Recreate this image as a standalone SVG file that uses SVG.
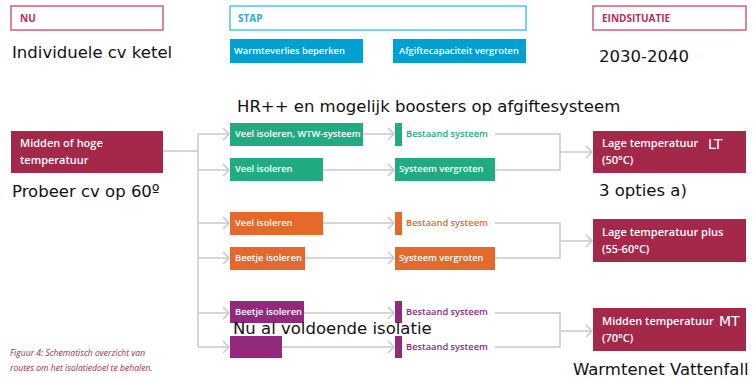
<svg xmlns="http://www.w3.org/2000/svg" width="754" height="380" viewBox="0 0 754 380">
<style>
.hdr{fill:#fff;stroke-width:1.5}
.ht{font-family:"Open Sans","Liberation Sans",sans-serif;font-size:10px;font-weight:700}
.bt{font-family:"Open Sans","Liberation Sans",sans-serif;font-size:9.3px;font-weight:600;fill:#fff}
.big{font-family:"Open Sans","Liberation Sans",sans-serif;font-size:11px;font-weight:600;fill:#fff}
.note{font-family:"DejaVu Sans",Verdana,sans-serif;font-size:16.5px;fill:#111}
.tag{font-family:"DejaVu Sans",Verdana,sans-serif;font-size:14px;fill:#fff}
.con{fill:none;stroke:#c8c8c8;stroke-width:1.5}
.red{fill:#a3284a}.grn{fill:#22ab82}.org{fill:#e5692a}.pur{fill:#93297d}.blu{fill:#00a0d2}
.cap{font-family:"Open Sans","Liberation Sans",sans-serif;font-size:8.6px;font-style:italic;fill:#a3284a}
</style>
<defs>
<marker id="chev" markerUnits="userSpaceOnUse" markerWidth="10" markerHeight="14" refX="7" refY="7" orient="auto">
<path d="M1,1 L7,7 L1,13" fill="none" stroke="#c8c8c8" stroke-width="1.5"/>
</marker>
</defs>
<g id="connectors" class="con">
<path d="M163,151 H198 M198,134 V347"/>
<path d="M198,134 H229" marker-end="url(#chev)"/>
<path d="M198,170 H229" marker-end="url(#chev)"/>
<path d="M198,223 H229" marker-end="url(#chev)"/>
<path d="M198,258 H229" marker-end="url(#chev)"/>
<path d="M198,313 H229" marker-end="url(#chev)"/>
<path d="M198,347 H229" marker-end="url(#chev)"/>
<path d="M363,134 H394" marker-end="url(#chev)"/>
<path d="M323,170 H394" marker-end="url(#chev)"/>
<path d="M323,223 H394" marker-end="url(#chev)"/>
<path d="M305,258 H394" marker-end="url(#chev)"/>
<path d="M304,313 H394" marker-end="url(#chev)"/>
<path d="M282,347 H394" marker-end="url(#chev)"/>
<path d="M495,134 H560 V170 H495"/>
<path d="M560,152 H592" marker-end="url(#chev)"/>
<path d="M495,223 H560 V258 H495"/>
<path d="M560,241 H592" marker-end="url(#chev)"/>
<path d="M495,313 H560 V347 H495"/>
<path d="M560,331 H592" marker-end="url(#chev)"/>
</g>
<g id="hdr-nu"><rect class="hdr" x="11" y="6" width="152" height="24" stroke="#c9607e"/><text class="ht" x="20" y="22" fill="#b3305a">NU</text></g>
<g id="hdr-stap"><rect class="hdr" x="230" y="6" width="296" height="24" stroke="#4fc3e8"/><text class="ht" x="238" y="22" fill="#2aa8dc">STAP</text></g>
<g id="hdr-eind"><rect class="hdr" x="593" y="6" width="153" height="24" stroke="#c9607e"/><text class="ht" x="602" y="22" fill="#b3305a">EINDSITUATIE</text></g>
<g id="stap1"><rect class="blu" x="230" y="39" width="133" height="24"/><text class="bt" x="234" y="54">Warmteverlies beperken</text></g>
<g id="stap2"><rect class="blu" x="393" y="39" width="133" height="24"/><text class="bt" x="399" y="54">Afgiftecapaciteit vergroten</text></g>
<g id="start"><rect class="red" x="11" y="131" width="152" height="42"/><text class="big" x="20" y="147">Midden of hoge</text><text class="big" x="20" y="164">temperatuur</text></g>
<g id="g1"><rect class="grn" x="230" y="123" width="133" height="23"/><text class="bt" x="235" y="137">Veel isoleren, WTW-systeem</text></g>
<g id="g2"><rect class="grn" x="230" y="158" width="93" height="23"/><text class="bt" x="235" y="172">Veel isoleren</text></g>
<g id="g3"><rect class="grn" x="395" y="123" width="7" height="23"/><text class="bt" x="406" y="137" style="fill:#22ab82">Bestaand systeem</text></g>
<g id="g4"><rect class="grn" x="395" y="158" width="100" height="23"/><text class="bt" x="399" y="172">Systeem vergroten</text></g>
<g id="o1"><rect class="org" x="230" y="212" width="93" height="23"/><text class="bt" x="235" y="226">Veel isoleren</text></g>
<g id="o2"><rect class="org" x="230" y="247" width="75" height="23"/><text class="bt" x="235" y="261">Beetje isoleren</text></g>
<g id="o3"><rect class="org" x="395" y="212" width="7" height="23"/><text class="bt" x="406" y="226" style="fill:#e5692a">Bestaand systeem</text></g>
<g id="o4"><rect class="org" x="395" y="247" width="100" height="23"/><text class="bt" x="399" y="261">Systeem vergroten</text></g>
<g id="p1"><rect class="pur" x="230" y="301" width="74" height="22"/><text class="bt" x="235" y="315">Beetje isoleren</text></g>
<g id="p2"><rect class="pur" x="230" y="336" width="52" height="22"/></g>
<g id="p3"><rect class="pur" x="395" y="301" width="7" height="22"/><text class="bt" x="406" y="315" style="fill:#93297d">Bestaand systeem</text></g>
<g id="p4"><rect class="pur" x="395" y="336" width="7" height="22"/><text class="bt" x="406" y="350" style="fill:#93297d">Bestaand systeem</text></g>
<g id="end1"><rect class="red" x="593" y="131" width="153" height="42"/><text class="big" x="602" y="147">Lage temperatuur</text><text class="big" x="602" y="164">(50°C)</text><text class="tag" x="708" y="149">LT</text></g>
<g id="end2"><rect class="red" x="593" y="219" width="153" height="43"/><text class="big" x="602" y="236">Lage temperatuur plus</text><text class="big" x="602" y="253">(55-60°C)</text></g>
<g id="end3"><rect class="red" x="593" y="308" width="153" height="43"/><text class="big" x="602" y="325">Midden temperatuur</text><text class="big" x="602" y="342">(70°C)</text><text class="tag" x="719" y="326">MT</text></g>
<g id="notes">
<text class="note" x="12" y="58">Individuele cv ketel</text>
<text class="note" x="599" y="62">2030-2040</text>
<text class="note" x="237" y="112">HR++ en mogelijk boosters op afgiftesysteem</text>
<text class="note" x="12" y="197">Probeer cv op 60º</text>
<text class="note" x="599" y="196">3 opties a)</text>
<text class="note" x="233" y="334">Nu al voldoende isolatie</text>
<text class="note" x="573" y="375">Warmtenet Vattenfall</text>
</g>
<g id="caption">
<text class="cap" x="10" y="356">Figuur 4: Schematisch overzicht van</text>
<text class="cap" x="10" y="371">routes om het isolatiedoel te behalen.</text>
</g>
</svg>
